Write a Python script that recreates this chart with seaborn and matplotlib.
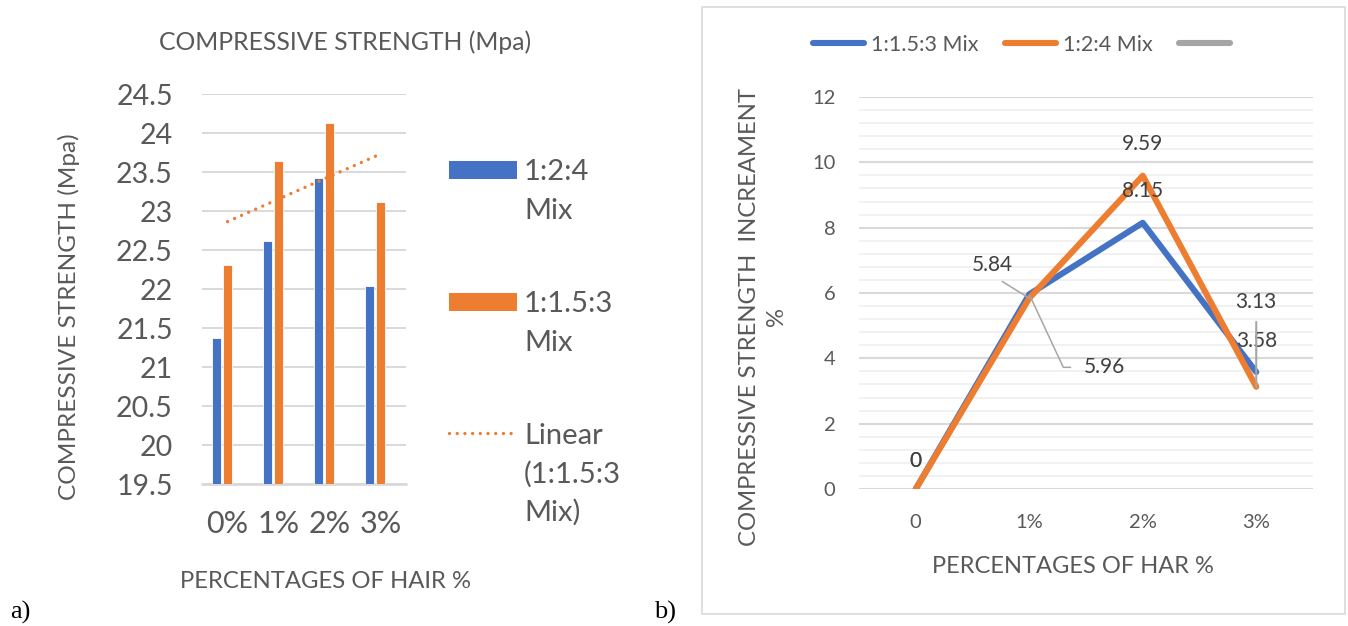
import numpy as np
import pandas as pd
import matplotlib
matplotlib.use("Agg")
import matplotlib.pyplot as plt
from matplotlib.patches import Rectangle
from matplotlib.lines import Line2D
import seaborn as sns

# ---- data -------------------------------------------------------------
hair_pct = ["0%", "1%", "2%", "3%"]
strength_124 = [21.37, 22.62, 23.42, 22.04]      # 1:2:4 Mix (MPa)
strength_1153 = [22.31, 23.64, 24.13, 23.11]     # 1:1.5:3 Mix (MPa)
bar_series = ["1:2:4 Mix", "1:1.5:3 Mix", "Series3"]

incr_cats = ["0", "1%", "2%", "3%"]
incr_1153 = [0, 5.96, 8.15, 3.58]                # 1:1.5:3 Mix increment (%)
incr_124 = [0, 5.84, 9.59, 3.13]                 # 1:2:4 Mix increment (%)
line_series = ["1:1.5:3 Mix", "1:2:4 Mix", ""]

# ---- style ------------------------------------------------------------
sns.set_theme(style="white")
plt.rcParams["font.family"] = ["Lato", "DejaVu Sans"]
BLUE, ORANGE, GRAY = "#4472C4", "#ED7D31", "#A5A5A5"
TXT, LBL, GRID, MINOR = "#595959", "#404040", "#D9D9D9", "#F0F0F0"

W, H = 1348, 626
fig = plt.figure(figsize=(W / 100, H / 100), dpi=100)


def fx(px):
    return px / W


def fy(py):
    return 1 - py / H


# ---- a) bar chart -----------------------------------------------------
bars = pd.DataFrame({
    "pct": hair_pct * 3,
    "mix": np.repeat(bar_series, len(hair_pct)),
    "val": strength_124 + strength_1153 + [np.nan] * len(hair_pct),
})

ax1 = fig.add_axes([fx(202), fy(484), (406 - 202) / W, (484 - 94) / H])
sns.barplot(data=bars, x="pct", y="val", hue="mix", hue_order=bar_series,
            palette=[BLUE, ORANGE, GRAY], saturation=1, width=0.66, gap=0.2,
            legend=False, ax=ax1, zorder=3, edgecolor="white", linewidth=0.6)

# linear trend of the 1:1.5:3 series
xs = np.arange(len(hair_pct))
slope, icpt = np.polyfit(xs, strength_1153, 1)
ax1.plot([xs[0], xs[-1]], [icpt + slope * xs[0], icpt + slope * xs[-1]],
         color=ORANGE, lw=2.4, linestyle=(0, (0.01, 2.3)),
         dash_capstyle="round", zorder=4)

ax1.set_ylim(19.5, 24.5)
ax1.set_xlim(-0.5, len(hair_pct) - 0.5)
ax1.set_yticks(np.arange(19.5, 24.51, 0.5))
ax1.set_yticklabels([f"{v:g}" for v in np.arange(19.5, 24.51, 0.5)])
ax1.yaxis.grid(True, color=GRID, lw=1.4, zorder=0)
ax1.set_axisbelow(True)
for s in ax1.spines.values():
    s.set_visible(False)
ax1.axhline(19.5, color=GRID, lw=2.0, zorder=2, clip_on=False)
ax1.tick_params(axis="y", length=0, pad=21, labelsize=20.5, labelcolor=TXT)
ax1.tick_params(axis="x", length=0, pad=19, labelsize=22, labelcolor=TXT)
ax1.set_xlabel("")
ax1.set_ylabel("")

fig.text(fx(345), fy(50), "COMPRESSIVE STRENGTH (Mpa)", ha="center",
         va="baseline", fontsize=17.8, color=TXT)
fig.text(fx(76), fy(317), "COMPRESSIVE STRENGTH (Mpa)", rotation=90,
         rotation_mode="anchor", ha="center", va="baseline",
         fontsize=17.6, color=TXT)
fig.text(fx(326), fy(588), "PERCENTAGES OF HAIR %", ha="center",
         va="baseline", fontsize=17.2, color=TXT)

# legend keys for the bar chart
fig.add_artist(Rectangle((fx(449), fy(179)), 68 / W, 18 / H,
                         transform=fig.transFigure, color=BLUE, lw=0))
fig.add_artist(Rectangle((fx(449), fy(311)), 68 / W, 18 / H,
                         transform=fig.transFigure, color=ORANGE, lw=0))
fig.add_artist(Line2D([fx(449), fx(515)], [fy(433), fy(433)],
                      transform=fig.transFigure, color=ORANGE, lw=2.4,
                      linestyle=(0, (0.01, 2.3)), dash_capstyle="round"))
legend_lines = [("1:2:4", 180), ("Mix", 219),
                ("1:1.5:3", 312), ("Mix", 351),
                ("Linear", 444), ("(1:1.5:3", 483), ("Mix)", 521)]
for txt, base in legend_lines:
    fig.text(fx(524), fy(base), txt, ha="left", va="baseline",
             fontsize=21, color=TXT)

# ---- b) line chart ----------------------------------------------------
lines = pd.DataFrame({
    "pos": list(range(len(incr_cats))) * 2,
    "mix": np.repeat(line_series[:2], len(incr_cats)),
    "val": incr_1153 + incr_124,
})

ax2 = fig.add_axes([fx(859), fy(489), (1313 - 859) / W, (489 - 97) / H])
ax2.set_ylim(0, 12)
ax2.set_xlim(-0.5, len(incr_cats) - 0.5)
ax2.set_yticks(np.arange(0, 12.01, 2))
ax2.set_yticks(np.arange(0, 12.01, 0.4), minor=True)
ax2.yaxis.grid(True, which="minor", color=MINOR, lw=1.3, zorder=0)
ax2.yaxis.grid(True, which="major", color=GRID, lw=1.5, zorder=1)
ax2.set_axisbelow(True)
for s in ax2.spines.values():
    s.set_visible(False)

sns.lineplot(data=lines, x="pos", y="val", hue="mix", hue_order=line_series[:2],
             palette=[BLUE, ORANGE], lw=4.4, legend=False, ax=ax2,
             solid_capstyle="round", solid_joinstyle="round", zorder=3)

ax2.set_xticks(range(len(incr_cats)))
ax2.set_xticklabels(incr_cats)
ax2.tick_params(axis="y", which="both", length=0, pad=17, labelsize=14.5,
                labelcolor=TXT)
ax2.tick_params(axis="x", length=0, pad=18, labelsize=14.5, labelcolor=TXT)
ax2.set_xlabel("")
ax2.set_ylabel("")

# value labels: offsets in pixels, optional leader line style
lab_1153 = [((0, 28), None), ((75, -73), "elbow"), ((0, 32), None), ((0, 31), None)]
lab_124 = [((0, 28), None), ((-37, 33), "diag"), ((0, 32), None), ((0, 85), "vert")]
for vals, labs in ((incr_1153, lab_1153), (incr_124, lab_124)):
    for i, (v, (off, lead)) in enumerate(zip(vals, labs)):
        kw = {}
        if lead == "elbow":
            kw["arrowprops"] = dict(arrowstyle="-", color="#A6A6A6", lw=1.1,
                                    relpos=(0, 0.5), shrinkA=7, shrinkB=1,
                                    connectionstyle="angle,angleA=0,angleB=-65,rad=0")
        elif lead == "diag":
            kw["arrowprops"] = dict(arrowstyle="-", color="#A6A6A6", lw=1.1,
                                    relpos=(0.5, 0), shrinkA=4, shrinkB=0)
        elif lead == "vert":
            kw["arrowprops"] = dict(arrowstyle="-", color="#A6A6A6", lw=1.5,
                                    relpos=(0.5, 0), shrinkA=5, shrinkB=0)
        ax2.annotate(f"{v:g}", xy=(i, v), xytext=off, textcoords="offset pixels",
                     ha="center", va="center", fontsize=15, color=LBL,
                     zorder=5, **kw)

handles = [Line2D([], [], color=c, lw=4.4, solid_capstyle="round")
           for c in (BLUE, ORANGE, GRAY)]
fig.legend(handles, line_series, loc="center", ncol=3, frameon=False,
           bbox_to_anchor=(fx(1025), fy(45)), fontsize=15.5, handlelength=2.35,
           handletextpad=0.33, columnspacing=1.25, labelcolor=TXT)

fig.text(fx(763), fy(317), "COMPRESSIVE STRENGTH  INCREAMENT\n%",
         rotation=90, rotation_mode="anchor", ha="center", va="center",
         multialignment="center", linespacing=1.35, fontsize=17.2, color=TXT)
fig.text(fx(1073), fy(573), "PERCENTAGES OF HAR %", ha="center",
         va="baseline", fontsize=17, color=TXT)

# frame around panel b
fig.add_artist(Rectangle((fx(702), fy(614)), (1345 - 702) / W, (614 - 7) / H,
                         transform=fig.transFigure, fill=False,
                         edgecolor=GRID, lw=1.2))

# panel letters
serif = ["Liberation Serif", "DejaVu Serif"]
fig.text(fx(10), fy(619), "a)", family=serif, fontsize=19, color="black",
         va="baseline")
fig.text(fx(654), fy(619), "b)", family=serif, fontsize=19, color="black",
         va="baseline")

fig.savefig("out.png", dpi=100)
